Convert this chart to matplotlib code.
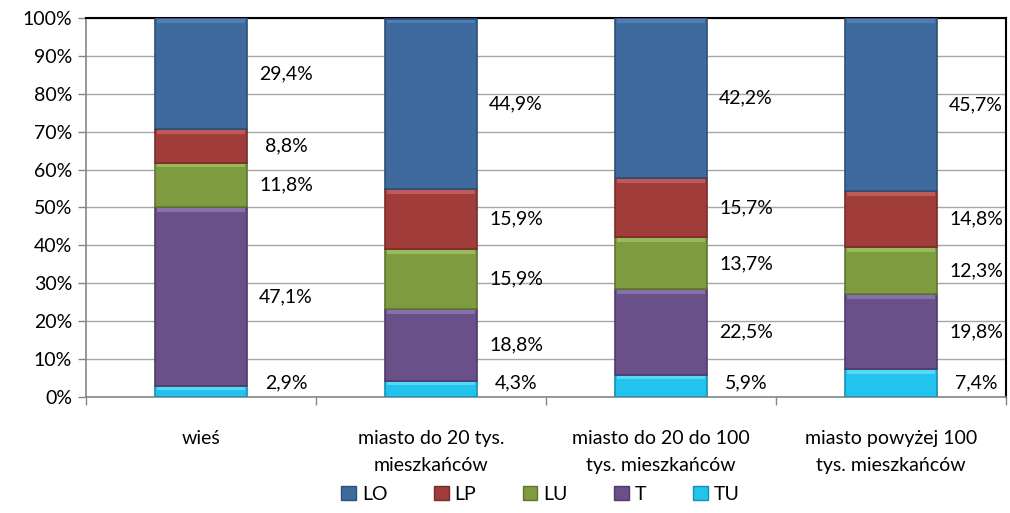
import matplotlib
matplotlib.use("Agg")
import matplotlib.pyplot as plt
import numpy as np
from matplotlib.ticker import FixedLocator, PercentFormatter
from matplotlib.patches import Patch

categories = ["wieś", "miasto do 20 tys.\nmieszkańców", "miasto do 20 do 100\ntys. mieszkańców", "miasto powyżej 100\ntys. mieszkańców"]
series_names = ["TU", "T", "LU", "LP", "LO"]
TU = [2.9, 4.3, 5.9, 7.4]
T = [47.1, 18.8, 22.5, 19.8]
LU = [11.8, 15.9, 13.7, 12.3]
LP = [8.8, 15.9, 15.7, 14.8]
LO = [29.4, 44.9, 42.2, 45.7]
label_texts = {
    "TU": ["2,9%", "4,3%", "5,9%", "7,4%"],
    "T": ["47,1%", "18,8%", "22,5%", "19,8%"],
    "LU": ["11,8%", "15,9%", "13,7%", "12,3%"],
    "LP": ["8,8%", "15,9%", "15,7%", "14,8%"],
    "LO": ["29,4%", "44,9%", "42,2%", "45,7%"],
}
colors = {"LO": "#3F6A9E", "LP": "#A03D3A", "LU": "#7F9B40", "T": "#695088", "TU": "#22C3EC"}
edges = {"LO": "#2D4F78", "LP": "#7A2B29", "LU": "#5F7630", "T": "#4E3B67", "TU": "#1592B2"}
highlights = {"LO": "#5A86BE", "LP": "#C86A66", "LU": "#A6C766", "T": "#9580B8", "TU": "#6FE0FA"}

plt.rcParams['font.family'] = ['Lato', 'DejaVu Sans']
FS = 14
fig = plt.figure(figsize=(10.10, 5.13), dpi=100)
ax = fig.add_axes([0.0851, 0.2261, 0.9109, 0.7389])

data = {"TU": TU, "T": T, "LU": LU, "LP": LP, "LO": LO}
x = np.arange(len(categories))
width = 0.4
bottom = np.zeros(len(categories))
for name in series_names:
    vals = np.array(data[name])
    ax.bar(x, vals, width, bottom=bottom, color=colors[name], edgecolor=edges[name],
           linewidth=1.2, zorder=3)
    hl = np.minimum(vals * 0.25, 1.0)
    ax.bar(x, hl, width - 0.02, bottom=bottom + vals - hl - 0.25, color=highlights[name],
           linewidth=0, zorder=4, alpha=0.7)
    mids = bottom + vals / 2
    ypos = np.maximum(mids, 3.6)
    for i in range(len(categories)):
        ax.text(x[i] + 0.37, ypos[i], label_texts[name][i], ha="center", va="center",
                fontsize=FS, color="black", zorder=5)
    bottom = bottom + vals

ax.set_xlim(-0.5, len(categories) - 0.5)
ax.set_ylim(0, 100)
ax.yaxis.set_major_locator(FixedLocator(np.arange(0, 101, 10)))
ax.yaxis.set_major_formatter(PercentFormatter(decimals=0))
ax.grid(axis="y", color="#A6A6A6", linewidth=1.0, zorder=0)
ax.set_axisbelow(True)

ax.set_xticks(x)
ax.set_xticklabels(categories, fontsize=FS, linespacing=1.7)
ax.tick_params(axis="x", length=0, pad=24)
ax.xaxis.set_minor_locator(FixedLocator(np.arange(-0.5, len(categories), 1.0)))
ax.tick_params(axis="x", which="minor", length=6, color="#868686", width=1)
ax.tick_params(axis="y", length=6, color="#868686", width=1, labelsize=FS, pad=4)

for s in ["left", "bottom"]:
    ax.spines[s].set_color("#868686")
    ax.spines[s].set_linewidth(1.2)
for s in ["top", "right"]:
    ax.spines[s].set_color("black")
    ax.spines[s].set_linewidth(1.5)

handles = [Patch(facecolor=colors[n], edgecolor=edges[n]) for n in ["LO", "LP", "LU", "T", "TU"]]
fig.legend(handles, ["LO", "LP", "LU", "T", "TU"], loc="center", bbox_to_anchor=(0.535, 0.037),
           ncol=5, frameon=False, fontsize=FS, handlelength=0.75, handleheight=0.75,
           handletextpad=0.3, columnspacing=2.4)

fig.savefig("out.png", dpi=100)
